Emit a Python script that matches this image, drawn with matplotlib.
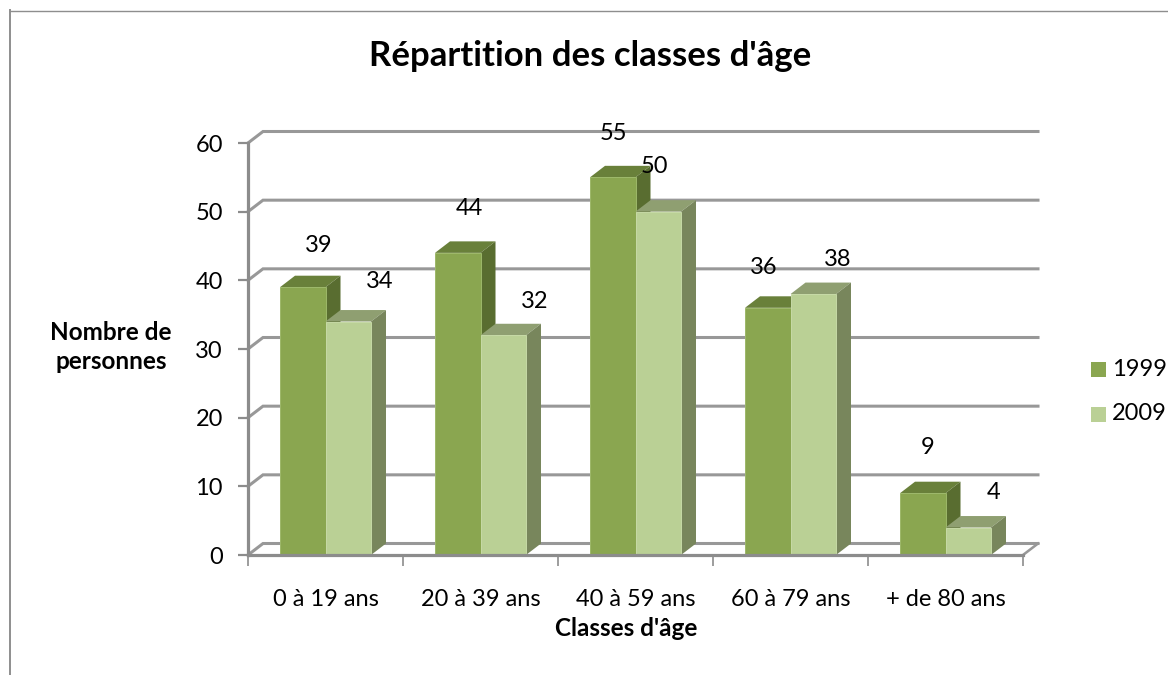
import matplotlib
matplotlib.use("Agg")
import matplotlib.pyplot as plt
from matplotlib.patches import Polygon, Rectangle
from matplotlib.lines import Line2D

categories = ["0 à 19 ans", "20 à 39 ans", "40 à 59 ans", "60 à 79 ans", "+ de 80 ans"]
values_1999 = [39, 44, 55, 36, 9]
values_2009 = [34, 32, 50, 38, 4]
y_ticks = [0, 10, 20, 30, 40, 50, 60]

# label offsets from top-centre of each bar, in pixels
offs_1999 = [(16, 42), (12, 44), (1, 44), (-4, 40), (5, 46)]
offs_2009 = [(31, 40), (31, 34), (-4, 45), (24, 35), (25, 35)]

W, H = 1168, 675
L, R, T, B = 248, 1023, 143, 555
FONT = "Lato"
plt.rcParams["font.family"] = FONT
FS = 17

fig = plt.figure(figsize=(W / 100, H / 100), dpi=100, facecolor="white")
ax = fig.add_axes([L / W, 1 - B / H, (R - L) / W, (B - T) / H])
ax.set_xlim(0, 5)
ax.set_ylim(0, 60)
ax.patch.set_visible(False)

ux = (R - L) / 5
uy = (B - T) / 60
dx = 15 / ux
dy = 11.5 / uy
bw = 45.5 / ux
GRID = "#989898"
lw_px = 3.2 * 0.72

for s in ("top", "right"):
    ax.spines[s].set_visible(False)
for s in ("left", "bottom"):
    ax.spines[s].set_color("#8c8c8c")
    ax.spines[s].set_linewidth(lw_px)
    ax.spines[s].set_zorder(20 if s == "bottom" else 1)

# back wall gridlines + side wall diagonals
for v in y_ticks:
    ax.plot([0, dx, 5 + dx], [v, v + dy, v + dy], color=GRID, lw=lw_px * 0.95,
            clip_on=False, zorder=1, solid_joinstyle="miter")
ax.plot([5, 5 + dx], [0, dy], color=GRID, lw=lw_px * 0.8, clip_on=False, zorder=1)

ax.set_yticks(y_ticks)
ax.set_xticks(range(6))
ax.set_xticklabels([])
ax.set_xticks([i + 0.5 for i in range(5)], categories, minor=True)
ax.tick_params(axis="y", length=7, width=1.6, color="#8c8c8c", labelsize=FS, pad=11, labelcolor="black")
ax.tick_params(axis="x", which="major", length=8, width=1.2, color="#8c8c8c")
ax.tick_params(axis="x", which="minor", length=0, labelsize=FS, pad=24.5, labelcolor="black")


def bar3d(x0, v, front, edge, top, side, z):
    ax.bar(x0, v, width=bw, align="edge", color=front, edgecolor=edge, linewidth=0.7,
           zorder=z + 0.2, clip_on=False)
    x1 = x0 + bw
    ax.add_patch(Polygon([(x0, v), (x1, v), (x1 + dx, v + dy), (x0 + dx, v + dy)],
                         closed=True, fc=top, ec="none", zorder=z, clip_on=False))
    ax.add_patch(Polygon([(x1, 0), (x1 + dx, dy), (x1 + dx, v + dy), (x1, v)],
                         closed=True, fc=side, ec="none", zorder=z, clip_on=False))


for i in range(5):
    c = i + 0.5
    bar3d(c - bw, values_1999[i], "#8AA650", "#9DB86A", "#69803A", "#596D30", 5 + i)
    bar3d(c, values_2009[i], "#BAD095", "#C6D9A6", "#8F9F71", "#78865C", 5.5 + i)
    ax.annotate(str(values_1999[i]), (c - bw / 2, values_1999[i]), xytext=(offs_1999[i][0] * 0.72, offs_1999[i][1] * 0.72),
                textcoords="offset points", ha="center", va="center", fontsize=FS, zorder=30, annotation_clip=False)
    ax.annotate(str(values_2009[i]), (c + bw / 2, values_2009[i]), xytext=(offs_2009[i][0] * 0.72, offs_2009[i][1] * 0.72),
                textcoords="offset points", ha="center", va="center", fontsize=FS, zorder=30, annotation_clip=False)


def ft(x, y, s, **kw):
    fig.text(x / W, 1 - y / H, s, ha="center", va="center", **kw)


ft(590, 56, "Répartition des classes d'âge", fontsize=25, fontweight="bold")
ft(626, 628, "Classes d'âge", fontsize=17.5, fontweight="bold")
ft(111, 347, "Nombre de\npersonnes", fontsize=17.5, fontweight="bold", linespacing=1.32)

# legend
for yp, col, lab in [(369, "#8AA650", "1999"), (414, "#BAD095", "2009")]:
    fig.add_artist(Rectangle((1091 / W, 1 - (yp + 7.5) / H), 15 / W, 15 / H, transform=fig.transFigure, fc=col, ec="none"))
    fig.text(1112 / W, 1 - yp / H, lab, ha="left", va="center", fontsize=FS)

# outer frame: top and left edges only, the others fall outside the crop
fig.add_artist(Line2D([10 / W, 10 / W], [0, 1 - 9.5 / H], color="#8e8e8e", lw=1.4, transform=fig.transFigure))
fig.add_artist(Line2D([9.5 / W, 1], [1 - 10.5 / H, 1 - 10.5 / H], color="#8e8e8e", lw=1.0, transform=fig.transFigure))

fig.savefig("out.png", dpi=100)
